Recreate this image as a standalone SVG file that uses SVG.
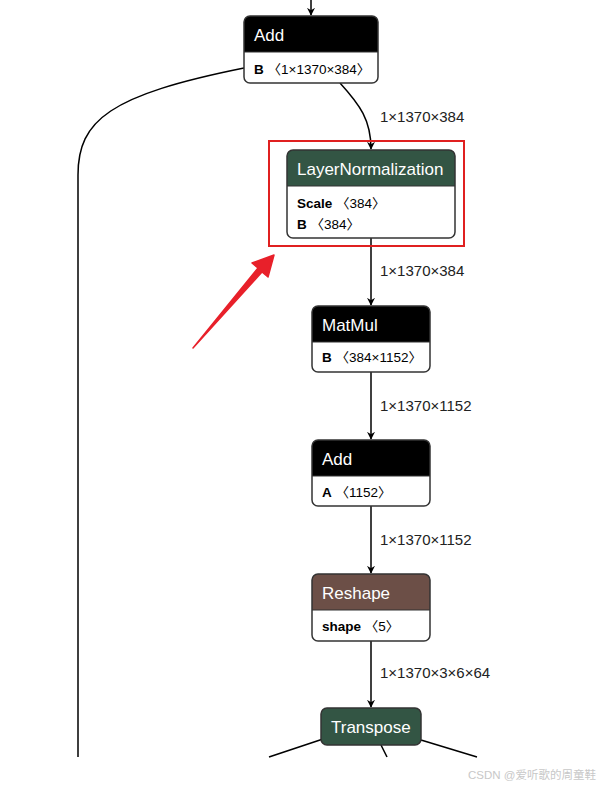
<svg xmlns="http://www.w3.org/2000/svg" width="600" height="787" viewBox="0 0 600 787">
<style>
.hd{font-family:"Liberation Sans",Arial,sans-serif;font-size:17px;fill:#fff}
.bd{font-family:"Liberation Sans","Noto Sans CJK SC",Arial,sans-serif;font-size:13.5px;fill:#000}
.b{font-weight:bold}
.lbl{font-family:"Liberation Sans",Arial,sans-serif;font-size:15px;fill:#222}
.ol{fill:none;stroke:#333;stroke-width:1.5}
.sep{stroke:#333;stroke-width:1}
.e{fill:none;stroke:#000;stroke-width:1.5}
.wm{font-family:"Liberation Sans","Noto Sans CJK SC",sans-serif;font-size:11.5px;fill:#c8c8c8}
</style>
<defs>
<marker id="ah" viewBox="0 0 10 10" refX="9" refY="5" markerWidth="8" markerHeight="8" markerUnits="userSpaceOnUse" orient="auto">
<path d="M0,0 L10,5 L0,10 L3,5 Z" fill="#000"/>
</marker>
</defs>
<rect width="600" height="787" fill="#fff"/>
<g id="connectors">
<path class="e" d="M311,0 V15" marker-end="url(#ah)"/>
<path class="e" d="M340,83 C360,105 371,120 371,149" marker-end="url(#ah)"/>
<path class="e" d="M371,238 V305" marker-end="url(#ah)"/>
<path class="e" d="M371,372 V439" marker-end="url(#ah)"/>
<path class="e" d="M371,506 V573" marker-end="url(#ah)"/>
<path class="e" d="M371,641 V707" marker-end="url(#ah)"/>
<path class="e" d="M244,68 C110,95 78,120 78,175 V757"/>
<path class="e" d="M323,739 L269,757"/>
<path class="e" d="M381,745 L387,757"/>
<path class="e" d="M421,740 L477,757"/>
<text class="lbl" x="380" y="122">1×1370×384</text>
<text class="lbl" x="380" y="276">1×1370×384</text>
<text class="lbl" x="380" y="411">1×1370×1152</text>
<text class="lbl" x="380" y="545">1×1370×1152</text>
<text class="lbl" x="380" y="678">1×1370×3×6×64</text>
</g>
<g id="add1">
<rect x="244" y="16" width="134" height="67" rx="6" fill="#fff"/>
<path d="M244,52 V22 A6,6 0 0 1 250,16 H372 A6,6 0 0 1 378,22 V52 Z" fill="#000"/>
<line class="sep" x1="244" y1="52" x2="378" y2="52"/>
<rect class="ol" x="244" y="16" width="134" height="67" rx="6"/>
<text class="hd" x="254" y="41">Add</text>
<text class="bd" x="254" y="74"><tspan class="b">B</tspan> 〈1×1370×384〉</text>
</g>
<g id="layernorm">
<rect x="287" y="150" width="168" height="88" rx="6" fill="#fff"/>
<path d="M287,186 V156 A6,6 0 0 1 293,150 H449 A6,6 0 0 1 455,156 V186 Z" fill="#335544"/>
<line class="sep" x1="287" y1="186" x2="455" y2="186"/>
<rect class="ol" x="287" y="150" width="168" height="88" rx="6"/>
<text class="hd" x="297" y="175">LayerNormalization</text>
<text class="bd" x="297" y="208"><tspan class="b">Scale</tspan> 〈384〉</text>
<text class="bd" x="297" y="229"><tspan class="b">B</tspan> 〈384〉</text>
</g>
<g id="matmul">
<rect x="312" y="306" width="118" height="66" rx="6" fill="#fff"/>
<path d="M312,342 V312 A6,6 0 0 1 318,306 H424 A6,6 0 0 1 430,312 V342 Z" fill="#000"/>
<line class="sep" x1="312" y1="342" x2="430" y2="342"/>
<rect class="ol" x="312" y="306" width="118" height="66" rx="6"/>
<text class="hd" x="322" y="331">MatMul</text>
<text class="bd" x="322" y="362"><tspan class="b">B</tspan> 〈384×1152〉</text>
</g>
<g id="add2">
<rect x="312" y="440" width="118" height="66" rx="6" fill="#fff"/>
<path d="M312,476 V446 A6,6 0 0 1 318,440 H424 A6,6 0 0 1 430,446 V476 Z" fill="#000"/>
<line class="sep" x1="312" y1="476" x2="430" y2="476"/>
<rect class="ol" x="312" y="440" width="118" height="66" rx="6"/>
<text class="hd" x="322" y="465">Add</text>
<text class="bd" x="322" y="497"><tspan class="b">A</tspan> 〈1152〉</text>
</g>
<g id="reshape">
<rect x="312" y="574" width="118" height="67" rx="6" fill="#fff"/>
<path d="M312,610 V580 A6,6 0 0 1 318,574 H424 A6,6 0 0 1 430,580 V610 Z" fill="#6c4f47"/>
<line class="sep" x1="312" y1="610" x2="430" y2="610"/>
<rect class="ol" x="312" y="574" width="118" height="67" rx="6"/>
<text class="hd" x="322" y="599">Reshape</text>
<text class="bd" x="322" y="631"><tspan class="b">shape</tspan> 〈5〉</text>
</g>
<g id="transpose">
<rect x="321" y="708" width="100" height="37" rx="6" fill="#335544" stroke="#333" stroke-width="1.5"/>
<text class="hd" x="331" y="733">Transpose</text>
</g>
<g id="highlight">
<rect x="269" y="141" width="195" height="105" fill="none" stroke="#e02020" stroke-width="2"/>
<path d="M193,348 L258,268 L252,263 L274,255 L268,277 L262,272 Z" fill="#e8202a" stroke="#e8202a" stroke-width="1.5" stroke-linejoin="round"/>
</g>
<text class="wm" x="596" y="779" text-anchor="end">CSDN @爱听歌的周童鞋</text>
</svg>
